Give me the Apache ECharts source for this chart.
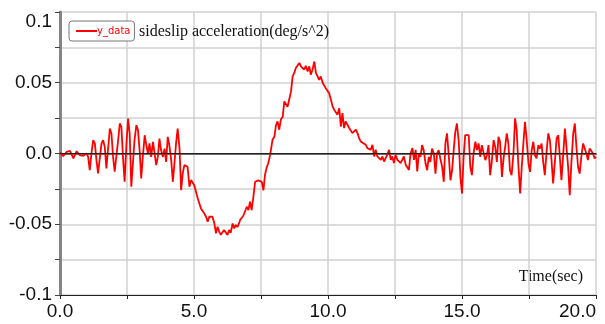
<!DOCTYPE html>
<html>
<head>
<meta charset="utf-8">
<title>sideslip acceleration</title>
<script src="https://cdn.jsdelivr.net/npm/echarts@6.0.0/dist/echarts.min.js"></script>
<style>
html, body { margin: 0; padding: 0; background: #fff; }
#main { width: 605px; height: 324px; }
</style>
</head>
<body>
<div id="main"></div>
<script>
// 时间 (s)
var times = [
	0.00, 0.12, 0.25, 0.37, 0.50, 0.62, 0.74, 0.87, 0.99, 1.05,
	1.11, 1.18, 1.24, 1.30, 1.36, 1.42, 1.49, 1.55, 1.61, 1.67,
	1.73, 1.79, 1.86, 1.92, 1.98, 2.04, 2.10, 2.17, 2.23, 2.29,
	2.35, 2.41, 2.48, 2.54, 2.60, 2.66, 2.72, 2.78, 2.85, 2.91,
	2.97, 3.03, 3.09, 3.16, 3.22, 3.28, 3.34, 3.40, 3.47, 3.53,
	3.59, 3.65, 3.71, 3.77, 3.84, 3.90, 3.96, 4.02, 4.08, 4.15,
	4.21, 4.27, 4.33, 4.39, 4.46, 4.52, 4.58, 4.64, 4.70, 4.76,
	4.83, 4.89, 4.95, 5.01, 5.07, 5.14, 5.20, 5.26, 5.32, 5.38,
	5.45, 5.51, 5.57, 5.63, 5.69, 5.76, 5.82, 5.88, 5.94, 6.00,
	6.06, 6.12, 6.19, 6.25, 6.31, 6.37, 6.44, 6.50, 6.56, 6.62,
	6.68, 6.72, 6.84, 6.97, 7.03, 7.09, 7.15, 7.21, 7.28, 7.34,
	7.40, 7.47, 7.53, 7.59, 7.65, 7.71, 7.77, 7.84, 7.87, 7.93,
	8.00, 8.06, 8.12, 8.18, 8.24, 8.31, 8.37, 8.43, 8.49, 8.55,
	8.62, 8.68, 8.74, 8.80, 8.86, 8.93, 8.99, 9.05, 9.11, 9.17,
	9.24, 9.30, 9.36, 9.42, 9.49, 9.55, 9.61, 9.67, 9.73, 9.80,
	9.86, 9.92, 9.98, 10.04, 10.11, 10.17, 10.23, 10.29, 10.35, 10.42,
	10.48, 10.54, 10.60, 10.66, 10.73, 10.79, 10.91, 10.97, 11.04, 11.10,
	11.16, 11.22, 11.28, 11.41, 11.47, 11.53, 11.59, 11.66, 11.72, 11.78,
	11.84, 11.90, 11.97, 12.03, 12.09, 12.15, 12.21, 12.28, 12.34, 12.40,
	12.46, 12.52, 12.59, 12.65, 12.71, 12.77, 12.83, 12.90, 12.96, 13.02,
	13.08, 13.15, 13.21, 13.27, 13.33, 13.39,
	13.45, 13.51, 13.57, 13.64, 13.70, 13.76, 13.82, 13.88, 13.95, 14.01,
	14.07, 14.13, 14.19, 14.26, 14.32, 14.38, 14.44, 14.50, 14.57, 14.63,
	14.69, 14.75, 14.81, 14.88, 14.94, 15.00, 15.06, 15.12, 15.19, 15.25,
	15.31, 15.37, 15.43, 15.50, 15.56, 15.62, 15.68, 15.74, 15.80, 15.87,
	15.93, 15.99, 16.05, 16.11, 16.18, 16.24, 16.30, 16.36, 16.42, 16.49,
	16.55, 16.61, 16.67, 16.73, 16.79, 16.85, 16.92, 16.98, 17.04, 17.10,
	17.17, 17.23, 17.29, 17.35, 17.41, 17.48, 17.54, 17.60, 17.66, 17.72,
	17.78, 17.85, 17.91, 17.97, 18.03, 18.09, 18.16, 18.22, 18.28, 18.34,
	18.40, 18.47, 18.53, 18.59, 18.65, 18.71, 18.77, 18.84, 18.90, 18.96,
	19.02, 19.08, 19.15, 19.21, 19.27, 19.33, 19.39, 19.46, 19.52, 19.58,
	19.64, 19.70, 19.76, 19.83, 19.89, 19.95, 20.00
];
// 侧滑加速度 (deg/s^2)
var accel = [
	0.0007, -0.0019, 0.0012, 0.0019, -0.0035, 0.0016, -0.0012, -0.0016, 0, -0.0024,
	-0.0118, 0.0012, 0.0094, 0.0071, -0.0047, -0.0141, -0.0024, 0.0071, 0.0094, 0.0047,
	-0.0106, -0.0094, 0.0176, 0.0141, -0.0024, -0.0129, -0.0024, 0.0094, 0.0212, 0.0188,
	-0.0024, -0.0200, 0.0071, 0.0247, 0.0141, -0.0235, -0.0071, 0.0094, 0.0200, 0.0165,
	0.0024, -0.0176, -0.0024, 0.0129, 0.0059, 0, 0.0071, -0.0024, 0.0082, 0.0071,
	-0.0082, -0.0024, 0.0106, 0.0024, -0.0024, 0.0035, -0.0059, 0.0118, 0.0059, -0.0047,
	-0.0200, -0.0071, 0.0071, 0.0176, 0.0035, -0.0259, -0.0141, -0.0082, -0.0082, -0.0094,
	-0.0235, -0.0188, -0.0176, -0.0224, -0.0235, -0.0318, -0.0353, -0.0388, -0.0400, -0.0423,
	-0.0447, -0.0482, -0.0447, -0.0458, -0.0447, -0.0494, -0.0564, -0.0517, -0.0552, -0.0575,
	-0.0564, -0.0540, -0.0552, -0.0575, -0.0541, -0.0560, -0.0494, -0.0530, -0.0505, -0.0520,
	-0.0494, -0.0470, -0.0440, -0.0376, -0.0400, -0.0340, -0.0400, -0.0316, -0.0200, -0.0210,
	-0.0190, -0.0180, -0.0200, -0.0260, -0.0150, -0.0100, -0.0069, -0.0010, 0, 0.0097,
	0.0120, 0.0200, 0.0227, 0.0168, 0.0240, 0.0260, 0.0368, 0.0380, 0.0330, 0.0380,
	0.0439, 0.0545, 0.0569, 0.0604, 0.0592, 0.0640, 0.0616, 0.0628, 0.0592, 0.0620,
	0.0580, 0.0616, 0.0557, 0.0592, 0.0650, 0.0569, 0.0580, 0.0520, 0.0545, 0.0500,
	0.0486, 0.0460, 0.0450, 0.0427, 0.0380, 0.0333, 0.0310, 0.0297, 0.0274, 0.0320,
	0.0190, 0.0286, 0.0180, 0.0227, 0.0215, 0.0180, 0.0144, 0.0132, 0.0168, 0.0144,
	0.0109, 0.0085, 0.0073, 0.0061, 0.0038, 0.0050, 0.0026, 0.0061, -0.0021, 0.0026,
	-0.0021, -0.0010, -0.0045, -0.0021, -0.0057, -0.0033, -0.0010, 0.0026, -0.0045, -0.0021,
	-0.0068, -0.0010, -0.0045, -0.0033, -0.0068, -0.0045, -0.0021, -0.0080, -0.0068, -0.0116,
	0, 0.0038, -0.0045, 0.0026, -0.0127, 0,
	-0.0024, 0.0059, 0.0024, -0.0071, -0.0118, -0.0024, -0.0059, 0.0035, 0, -0.0142,
	0, 0.0024, -0.0035, -0.0094, -0.0200, 0.0071, 0.0142, 0, -0.0189, -0.0118,
	0.0024, 0.0153, 0.0212, 0.0083, -0.0165, -0.0283, -0.0024, 0.0130, 0.0142, 0.0130,
	-0.0094, -0.0153, 0, 0.0083, 0.0024, 0.0071, -0.0024, 0.0059, 0.0047, -0.0047,
	-0.0012, 0.0059, -0.0153, -0.0059, 0.0094, 0.0047, -0.0059, 0.0118, 0.0083, -0.0165,
	-0.0035, 0.0047, 0.0142, 0.0071, -0.0118, -0.0153, 0, 0.0248, 0.0165, -0.0071,
	-0.0283, -0.0094, 0.0071, 0.0224, 0.0106, -0.0071, -0.0130, 0.0024, 0.0083, -0.0012,
	-0.0035, 0.0059, 0.0035, 0.0071, -0.0059, -0.0153, 0.0024, 0.0142, 0.0094, -0.0047,
	-0.0212, -0.0047, 0.0106, 0.0130, -0.0024, -0.0189, -0.0024, 0.0177, 0.0189, -0.0094,
	-0.0295, -0.0071, 0.0142, 0.0212, 0.0047, -0.0094, -0.0142, -0.0012, 0.0071, 0.0083,
	0, -0.0047, 0.0035, 0.0024, 0, -0.0035, -0.0024
];
var xTicks = [0, 5, 10, 15, 20];// 横轴显示的标签
var yTicks = [-0.1, -0.05, 0, 0.05, 0.1];// 纵轴显示的标签

function yLabel(v) {
	var r = Math.round(v * 1000) / 1000;
	if (yTicks.indexOf(r) < 0) return '';
	if (r === 0) return '0.0';
	return String(r);
}

function xLabel(v) {
	if (xTicks.indexOf(v) < 0) return '';
	return v.toFixed(1);
}

var seriesData = [];
for (var i = 0; i < times.length; i++) {
	seriesData.push([times[i], accel[i]]);
}

var labelFont = '"Liberation Sans Narrow", "Arial Narrow", "Liberation Sans", Arial, sans-serif';
var serifFont = '"Liberation Serif", "Times New Roman", serif';

var option = {
	animation : false,
	grid : {
		left : 60,
		right : 9,
		top : 12,
		bottom : 29
	},
	title : {
		text : 'sideslip acceleration(deg/s^2)',
		left : 134,
		top : 19,
		textStyle : {
			fontFamily : serifFont,
			fontSize : 16,
			fontWeight : 'normal',
			color : '#111'
		}
	},
	legend : {
		left : 69,
		top : 21,
		data : [ 'y_data' ],
		icon : 'rect',
		itemWidth : 21,
		itemHeight : 2,
		padding : [ 5, 4, 5, 7 ],
		backgroundColor : '#fff',
		borderColor : '#777',
		borderWidth : 1,
		borderRadius : 3,
		textStyle : {
			color : '#ff0000',
			fontSize : 10,
			fontFamily : '"DejaVu Sans", Verdana, sans-serif',
			padding : [ 4, 0, 0, -5 ]
		}
	},
	graphic : [ {
		type : 'text',
		right : 22,
		top : 269,
		style : {
			text : 'Time(sec)',
			font : '16px ' + serifFont,
			fill : '#111'
		}
	} ],
	xAxis : [ {
		type : 'value',
		min : 0,
		max : 20,
		interval : 2.5,
		axisLine : {
			onZero : false,
			lineStyle : { color : '#222', width : 1 }
		},
		axisTick : {
			show : true,
			length : 4,
			lineStyle : { color : '#222' }
		},
		axisLabel : {
			formatter : xLabel,
			margin : 7,
			fontSize : 19,
			fontFamily : labelFont,
			color : '#111',
			alignMaxLabel : 'right'
		},
		splitLine : {
			show : true,
			lineStyle : { color : '#d2d2d2', width : 1.5 }
		}
	}, {
		type : 'value',
		position : 'top',
		min : 0,
		max : 20,
		axisLine : {
			show : true,
			lineStyle : { color : '#6a6a6a', width : 2 }
		},
		axisTick : { show : false },
		axisLabel : { show : false },
		splitLine : { show : false }
	} ],
	yAxis : [ {
		type : 'value',
		min : -0.1,
		max : 0.1,
		interval : 0.025,
		axisLine : {
			show : true,
			onZero : false,
			lineStyle : { color : '#444', width : 1.5 }
		},
		axisTick : {
			show : true,
			length : 5,
			lineStyle : { color : '#444' }
		},
		axisLabel : {
			formatter : yLabel,
			margin : 8,
			fontSize : 19,
			fontFamily : labelFont,
			color : '#111',
			verticalAlignMaxLabel : 'top'
		},
		splitLine : {
			show : true,
			lineStyle : { color : '#d2d2d2', width : 1.5 }
		}
	}, {
		type : 'value',
		position : 'right',
		min : -0.1,
		max : 0.1,
		axisLine : {
			show : true,
			lineStyle : { color : '#858585', width : 3 }
		},
		axisTick : { show : false },
		axisLabel : { show : false },
		splitLine : { show : false }
	} ],
	series : [ {
		name : 'y_data',
		type : 'line',
		data : seriesData,
		showSymbol : false,
		symbol : 'none',
		color : '#ff0000',
		lineStyle : { color : '#ff0000', width : 1.8 },
		markLine : {
			silent : true,
			symbol : 'none',
			label : { show : false },
			lineStyle : { color : '#222', type : 'solid', width : 1.2 },
			data : [ { yAxis : 0 } ]
		},
		z : 3
	} ]
};

var myChart = echarts.init(document.getElementById('main'));
myChart.setOption(option);
</script>
</body>
</html>
